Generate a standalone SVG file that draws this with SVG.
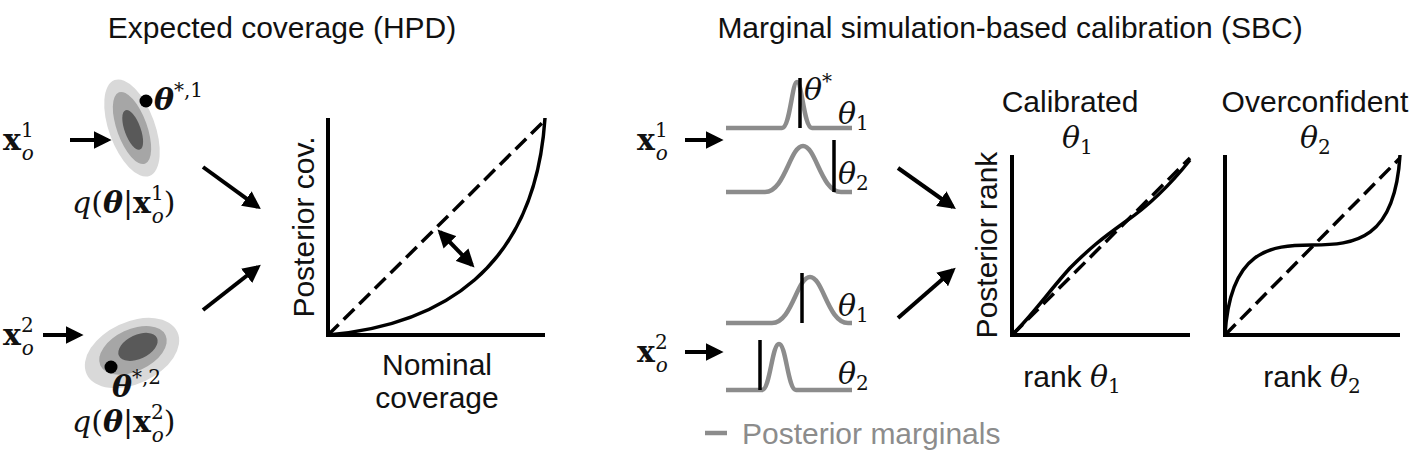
<svg xmlns="http://www.w3.org/2000/svg" width="1418" height="462" viewBox="0 0 1418 462">
<style>
.t{font-family:"Liberation Sans",Arial,sans-serif;font-size:30px;fill:#111}
.m{font-family:"DejaVu Serif","Liberation Serif",serif;font-size:30px;fill:#111}
.mi{font-style:italic}
.n{font-style:normal}
.b{font-weight:bold}
.sup{font-size:20px}
.ax{fill:none;stroke:#000;stroke-width:4}
.cv{fill:none;stroke:#000;stroke-width:3.5}
.ds{fill:none;stroke:#000;stroke-width:3.5;stroke-dasharray:15,7}
.ar{stroke:#000;stroke-width:4;fill:none;marker-end:url(#ah)}
.mg{fill:none;stroke:#8c8c8c;stroke-width:4.5}
.tk{stroke:#000;stroke-width:3.5}
</style>
<defs>
<marker id="ah" viewBox="0 0 10 10" refX="8" refY="5" markerWidth="4.5" markerHeight="4.5" orient="auto-start-reverse"><path d="M0,0L10,5L0,10z" fill="#000"/></marker>
</defs>
<text class="t" x="282" y="38" text-anchor="middle">Expected coverage (HPD)</text>
<text class="t" x="1010" y="38" text-anchor="middle">Marginal simulation-based calibration (SBC)</text>

<g id="x1">
<text class="m" x="3" y="150"><tspan class="b">x</tspan><tspan class="sup" dy="-13">1</tspan><tspan class="sup mi" dx="-12" dy="23">o</tspan></text>
</g>
<g id="post1">
<g transform="translate(132,128) rotate(-20)">
<ellipse rx="23" ry="51" fill="#d9d9d9"/>
<ellipse rx="15" ry="38" fill="#a6a6a6"/>
<ellipse cx="0" cy="2" rx="8" ry="21" fill="#595959"/>
</g>
<circle cx="146" cy="101" r="6.5" fill="#000"/>
<text class="m" x="154" y="110"><tspan class="b mi">θ</tspan><tspan class="sup" dy="-13">*,1</tspan></text>
<text class="m" x="72" y="213"><tspan class="mi">q</tspan>(<tspan class="b mi">θ</tspan>|<tspan class="b">x</tspan><tspan class="sup" dy="-13">1</tspan><tspan class="sup mi" dx="-12" dy="23">o</tspan><tspan dy="-10">)</tspan></text>
</g>
<g id="x2">
<text class="m" x="3" y="345"><tspan class="b">x</tspan><tspan class="sup" dy="-13">2</tspan><tspan class="sup mi" dx="-12" dy="23">o</tspan></text>
</g>
<g id="post2">
<g transform="translate(132,353) rotate(-25)">
<ellipse rx="50" ry="31" fill="#d9d9d9"/>
<ellipse cx="2" cy="-2" rx="36" ry="21" fill="#a6a6a6"/>
<ellipse cx="8" cy="-3" rx="21" ry="12" fill="#595959"/>
</g>
<circle cx="111" cy="367" r="6.5" fill="#000"/>
<text class="m" x="112" y="397"><tspan class="b mi">θ</tspan><tspan class="sup" dy="-13">*,2</tspan></text>
<text class="m" x="72" y="432"><tspan class="mi">q</tspan>(<tspan class="b mi">θ</tspan>|<tspan class="b">x</tspan><tspan class="sup" dy="-13">2</tspan><tspan class="sup mi" dx="-12" dy="23">o</tspan><tspan dy="-10">)</tspan></text>
</g>

<g id="coverage-plot">
<path class="ax" d="M328,118V335H545"/>
<path class="ds" d="M328,335L545,120"/>
<path class="cv" d="M328,335C440,325 535,270 545,118"/>
<text class="t" transform="translate(314,227) rotate(-90)" text-anchor="middle">Posterior cov.</text>
<text class="t" x="437" y="375" text-anchor="middle">Nominal</text>
<text class="t" x="437" y="408" text-anchor="middle">coverage</text>
</g>

<g id="marg1">
<text class="m" x="637" y="150"><tspan class="b">x</tspan><tspan class="sup" dy="-13">1</tspan><tspan class="sup mi" dx="-12" dy="23">o</tspan></text>
<path class="mg" d="M726,128H782C790,128 792,82 797,82C802,82 804,128 812,128H852"/>
<line class="tk" x1="800" y1="78" x2="800" y2="128"/>
<text class="m mi" x="804" y="100">θ<tspan class="sup n" dy="-12">*</tspan></text>
<text class="m mi" x="838" y="124">θ<tspan class="sup n" dy="6">1</tspan></text>
<path class="mg" d="M726,192H765C785,192 790,146 803,146C816,146 821,192 841,192H852"/>
<line class="tk" x1="834" y1="140" x2="834" y2="192"/>
<text class="m mi" x="838" y="184">θ<tspan class="sup n" dy="6">2</tspan></text>
</g>
<g id="marg2">
<text class="m" x="637" y="362"><tspan class="b">x</tspan><tspan class="sup" dy="-13">2</tspan><tspan class="sup mi" dx="-12" dy="23">o</tspan></text>
<path class="mg" d="M726,323H772C792,323 797,277 810,277C823,277 828,323 848,323H852"/>
<line class="tk" x1="802" y1="273" x2="802" y2="323"/>
<text class="m mi" x="838" y="316">θ<tspan class="sup n" dy="6">1</tspan></text>
<path class="mg" d="M726,390H762C770,390 772,344 779,344C786,344 788,390 796,390H852"/>
<line class="tk" x1="760" y1="340" x2="760" y2="390"/>
<text class="m mi" x="838" y="384">θ<tspan class="sup n" dy="6">2</tspan></text>
</g>
<g id="legend">
<line x1="705" y1="433" x2="727" y2="433" stroke="#8c8c8c" stroke-width="4.5"/>
<text class="t" x="742" y="444" style="fill:#8c8c8c">Posterior marginals</text>
</g>

<g id="calibrated-plot">
<text class="t" x="1070" y="112" text-anchor="middle">Calibrated</text>
<text class="m mi" x="1062" y="148">θ<tspan class="sup n" dy="6">1</tspan></text>
<path class="ax" d="M1012,155V335H1190"/>
<path class="ds" d="M1012,335L1190,158"/>
<path class="cv" d="M1012,335C1030,318 1050,290 1070,268C1090,248 1100,240 1125,222C1150,205 1170,185 1190,160"/>
<text class="t" transform="translate(997,245) rotate(-90)" text-anchor="middle">Posterior rank</text>
<text class="t" x="1072" y="387" text-anchor="middle">rank <tspan font-family="DejaVu Serif" font-style="italic" font-size="30">θ</tspan><tspan font-family="DejaVu Serif" font-size="20" dy="6">1</tspan></text>
</g>
<g id="overconfident-plot">
<text class="t" x="1315" y="112" text-anchor="middle">Overconfident</text>
<text class="m mi" x="1300" y="148">θ<tspan class="sup n" dy="6">2</tspan></text>
<path class="ax" d="M1225,155V335H1400"/>
<path class="ds" d="M1225,335L1400,158"/>
<path class="cv" d="M1225,335C1230,250 1270,245 1312,245C1355,245 1395,240 1400,155"/>
<text class="t" x="1312" y="387" text-anchor="middle">rank <tspan font-family="DejaVu Serif" font-style="italic" font-size="30">θ</tspan><tspan font-family="DejaVu Serif" font-size="20" dy="6">2</tspan></text>
</g>

<g id="connectors">
<line class="ar" x1="70" y1="140" x2="108" y2="140"/>
<line class="ar" x1="43" y1="335" x2="80" y2="335"/>
<line class="ar" x1="203" y1="167" x2="258" y2="207"/>
<line class="ar" x1="203" y1="310" x2="258" y2="267"/>
<line class="ar" x1="685" y1="140" x2="720" y2="140"/>
<line class="ar" x1="685" y1="352" x2="720" y2="352"/>
<line class="ar" x1="898" y1="168" x2="953" y2="207"/>
<line class="ar" x1="898" y1="318" x2="953" y2="270"/>
<line class="ar" x1="440" y1="232" x2="472" y2="265" marker-start="url(#ah)"/>
</g>
</svg>
